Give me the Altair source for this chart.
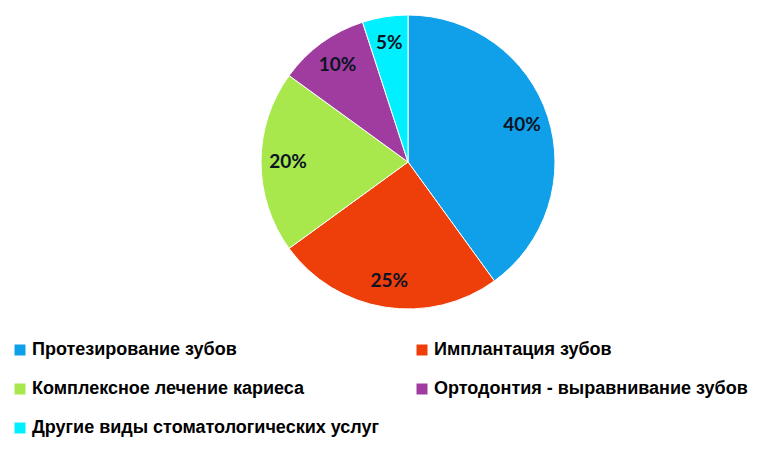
import altair as alt
import pandas as pd

categories = [
    "Протезирование зубов",
    "Имплантация зубов",
    "Комплексное лечение кариеса",
    "Ортодонтия - выравнивание зубов",
    "Другие виды стоматологических услуг",
]
values = [40, 25, 20, 10, 5]
labels = ["40%", "25%", "20%", "10%", "5%"]
colors = ["#10A0EA", "#EE3E0A", "#A8E84C", "#A03CA0", "#00F0FF"]

# legend fills column by column: reorder so it reads row by row
legend_order = [categories[i] for i in (0, 2, 4, 1, 3)]

df = pd.DataFrame({
    "cat": categories,
    "value": values,
    "label": labels,
    "order": list(range(len(categories))),
})

base = alt.Chart(df).encode(
    theta=alt.Theta("value:Q", stack=True),
    order=alt.Order("order:Q"),
)

arc = base.mark_arc(outerRadius=147, stroke="white", strokeWidth=1, x=400, y=154).encode(
    color=alt.Color(
        "cat:N",
        scale=alt.Scale(domain=categories, range=colors),
        legend=alt.Legend(
            orient="none",
            legendX=3,
            legendY=333,
            columns=2,
            columnPadding=33,
            rowPadding=21,
            values=legend_order,
            symbolType="square",
            symbolSize=121,
            symbolStrokeWidth=0,
            labelFont="Liberation Sans",
            labelFontSize=18,
            labelFontWeight="bold",
            labelColor="black",
            labelLimit=0,
            labelOffset=3,
            title=None,
        ),
    ),
)

text = base.mark_text(
    radius=120, font="Lato", fontSize=19, fontWeight="bold", color="#0c1424", x=400, y=154
).encode(text="label:N")

chart = (
    alt.layer(arc, text)
    .properties(width=744, height=310, padding=0)
    .configure_view(stroke=None)
)

chart.save("out.html", embed_options={"renderer": "svg", "actions": False})
